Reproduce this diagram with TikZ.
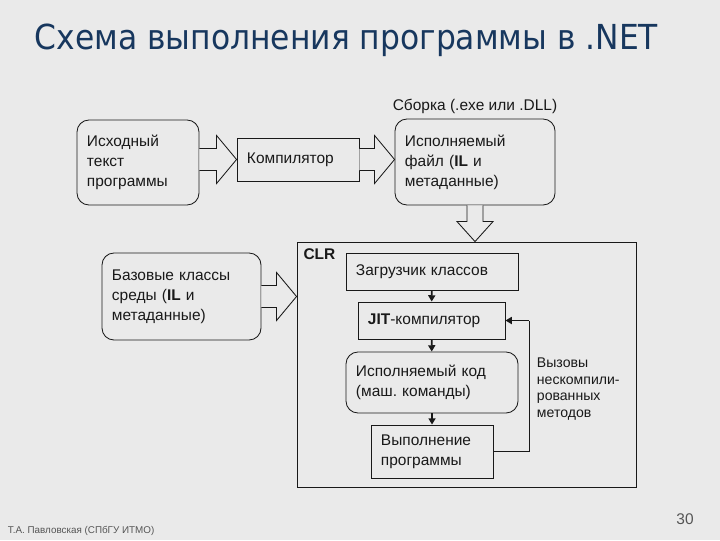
\documentclass[tikz,border=0pt]{standalone}
\usepackage{fontspec}
\setmainfont{Liberation Sans}
\newfontfamily\titlefont[FakeStretch=0.91]{DejaVu Sans}
\usetikzlibrary{calc, arrows.meta}
\definecolor{slidebg}{RGB}{234,234,234}
\definecolor{titleblue}{RGB}{23,55,94}
\definecolor{inkgrey}{RGB}{85,85,85}
\definecolor{ink}{RGB}{25,25,25}
\frenchspacing

\begin{document}
\begin{tikzpicture}[
  x=0.025cm, y=-0.025cm,
  box/.style={
    draw=ink, line width=0.6pt, text=ink, inner xsep=0.25cm, inner ysep=0pt,
    align=left, font=\fontsize{11}{14.2}\selectfont
  },
  rbox/.style={box, rounded corners=0.3cm},
  hollow/.style={draw=ink, line width=0.6pt, fill=slidebg},
  flow/.style={draw=ink, line width=1.3pt, -{Triangle[length=4.5pt, width=5pt]}},
  note/.style={text=ink, align=left, font=\fontsize{10}{12}\selectfont}
]
  \useasboundingbox (0,0) rectangle (720,540);
  \fill[slidebg] (0,0) rectangle (720,540);

  \node[anchor=west, text=titleblue, font=\titlefont\fontsize{24.5}{28}\selectfont]
    (title) at (30,40) {Схема выполнения программы в .NET};

  % top row
  \node[rbox, minimum width=3.05cm, minimum height=2.125cm, text width=2.55cm]
    (src) at (138,162.5) {Исходный\\текст\\программы};
  \node[box, minimum width=3.05cm, minimum height=1.075cm, text width=2.55cm]
    (comp) at (298,159.5) {Компилятор};
  \node[rbox, minimum width=4cm, minimum height=2.15cm, text width=3.5cm]
    (exe) at (475,162) {Исполняемый\\файл (\textbf{IL} и\\метаданные)};
  \node[text=ink, font=\fontsize{11}{13}\selectfont] (asm) at ($(exe.north)+(0,-12)$)
    {Сборка (.exe или .DLL)};

  % CLR
  \node[draw=ink, line width=0.6pt, minimum width=8.475cm, minimum height=6.125cm]
    (clr) at (466.5,364.5) {};
  \node[anchor=west, text=ink, font=\bfseries\fontsize{11}{13}\selectfont]
    (clrname) at ($(clr.north west)+(2,13)$) {CLR};
  \node[rbox, minimum width=3.975cm, minimum height=2.175cm, text width=3.475cm]
    (base) at (181.5,296.5) {Базовые классы\\среды (\textbf{IL} и\\метаданные)};

  \node[box, minimum width=4.3cm, minimum height=0.925cm, text width=3.8cm]
    (loader) at (432,271.5) {Загрузчик классов};
  \node[box, minimum width=3.675cm, minimum height=0.925cm, text width=3.175cm]
    (jit) at (431.5,320.5) {\textbf{JIT}-компилятор};
  \node[rbox, minimum width=4.3cm, minimum height=1.525cm, text width=3.8cm]
    (code) at (432,382.5) {Исполняемый код\\(маш. команды)};
  \node[box, minimum width=3.05cm, minimum height=1.325cm, text width=2.55cm]
    (run) at (432,451.5) {Выполнение\\программы};
  \node[note, anchor=west] (calls) at (532,389)
    {Вызовы\\нескомпили-\\рованных\\методов};

  % hollow arrows
  \coordinate (compin) at (comp.west);
  \coordinate (exein) at (exe.west|-comp.east);
  \coordinate (clrtop) at (exe.south|-clr.north);
  \coordinate (clrside) at (clr.west|-base.east);

  \draw[hollow] ($(src.east|-compin)+(0,-11)$) -- ($(compin)+(-20,-11)$)
    -- ($(compin)+(-20,-24)$) -- (compin) -- ($(compin)+(-20,24)$)
    -- ($(compin)+(-20,11)$) -- ($(src.east|-compin)+(0,11)$);
  \draw[hollow] ($(comp.east)+(0,-11)$) -- ($(exein)+(-20,-11)$)
    -- ($(exein)+(-20,-24)$) -- (exein) -- ($(exein)+(-20,24)$)
    -- ($(exein)+(-20,11)$) -- ($(comp.east)+(0,11)$);
  \draw[hollow] ($(exe.south)+(-8,0)$) -- ($(clrtop)+(-8,-20)$)
    -- ($(clrtop)+(-18,-20)$) -- (clrtop) -- ($(clrtop)+(18,-20)$)
    -- ($(clrtop)+(8,-20)$) -- ($(exe.south)+(8,0)$);
  \draw[hollow] ($(base.east)+(0,-11)$) -- ($(clrside)+(-20,-11)$)
    -- ($(clrside)+(-20,-24)$) -- (clrside) -- ($(clrside)+(-20,24)$)
    -- ($(clrside)+(-20,11)$) -- ($(base.east)+(0,11)$);

  % flow inside CLR
  \draw[flow] (loader) -- (jit);
  \draw[flow] (jit) -- (code);
  \draw[flow] (code) -- (run);
  \draw[draw=ink, line width=0.6pt] (run.east) -- ++(36,0) coordinate (back)
    -- (back|-jit.east);
  \draw[flow] (back|-jit.east) -- (jit.east);

  % footer
  \node[anchor=west, text=inkgrey, font=\fontsize{7}{8}\selectfont]
    (author) at (3,531) {Т.А. Павловская (СПбГУ ИТМО)};
  \node[text=inkgrey, font=\fontsize{11}{13}\selectfont] (page) at (685,519) {30};
\end{tikzpicture}
\end{document}
